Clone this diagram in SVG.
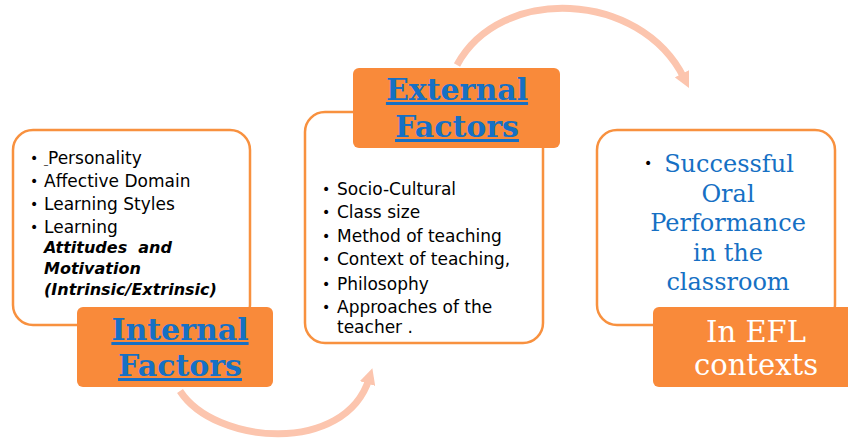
<svg xmlns="http://www.w3.org/2000/svg" width="848" height="438" viewBox="0 0 848 438">
<defs>
<marker id="ah" viewBox="0 0 10 10" markerWidth="16" markerHeight="16" markerUnits="userSpaceOnUse" refX="3" refY="5" orient="auto">
<path d="M0,0 L10,5 L0,10 z" fill="#fcc5ae"/>
</marker>
<style>
.panel{fill:#fff;stroke:#f8913f;stroke-width:2.5}
.tag{fill:#f98a3a}
.li{font-family:"DejaVu Sans",sans-serif;font-size:17px;fill:#000}
.bi{font-family:"DejaVu Sans",sans-serif;font-size:16px;font-weight:bold;font-style:italic;fill:#000}
.bul{font-family:"DejaVu Sans",sans-serif;font-size:14px;fill:#000}
.ttl{font-family:"DejaVu Serif",serif;font-size:30px;font-weight:bold;fill:#1670c4;text-anchor:middle;text-decoration:underline}
.res{font-family:"DejaVu Serif",serif;font-size:24px;fill:#1670c4;text-anchor:middle}
.efl{font-family:"DejaVu Serif",serif;font-size:29px;fill:#fff;text-anchor:middle}
.arc{fill:none;stroke:#fcc5ae;stroke-width:7}
</style>
</defs>
<rect width="848" height="438" fill="#fff"/>
<g id="connectors">
<path class="arc" d="M180,391 C215,445 345,455 369,379" marker-end="url(#ah)"/>
<path class="arc" d="M457,65 C500,-15 640,-10 684,78" marker-end="url(#ah)"/>
</g>
<g id="internal">
<rect class="panel" x="13" y="130" width="237" height="195" rx="20"/>
<text class="bul" x="30" y="163">•</text>
<text class="li" x="44" y="164"><tspan font-size="8">_</tspan>Personality</text>
<text class="bul" x="30" y="186">•</text>
<text class="li" x="44" y="187">Affective Domain</text>
<text class="bul" x="30" y="209">•</text>
<text class="li" x="44" y="210">Learning Styles</text>
<text class="bul" x="30" y="232">•</text>
<text class="li" x="44" y="233">Learning</text>
<text class="bi" x="44" y="253" xml:space="preserve">Attitudes  and</text>
<text class="bi" x="44" y="274">Motivation</text>
<text class="bi" x="44" y="295">(Intrinsic/Extrinsic)</text>
<rect class="tag" x="77" y="307" width="196" height="80" rx="6"/>
<text class="ttl" x="180" y="340">Internal</text>
<text class="ttl" x="180" y="376">Factors</text>
</g>
<g id="external">
<rect class="panel" x="305" y="112" width="238" height="231" rx="20"/>
<text class="bul" x="322" y="194">•</text>
<text class="li" x="337" y="195">Socio-Cultural</text>
<text class="bul" x="322" y="217">•</text>
<text class="li" x="337" y="218">Class size</text>
<text class="bul" x="322" y="241">•</text>
<text class="li" x="337" y="242">Method of teaching</text>
<text class="bul" x="322" y="264">•</text>
<text class="li" x="337" y="265">Context of teaching,</text>
<text class="bul" x="322" y="289">•</text>
<text class="li" x="337" y="290">Philosophy</text>
<text class="bul" x="322" y="312">•</text>
<text class="li" x="337" y="313">Approaches of the</text>
<text class="li" x="337" y="333">teacher .</text>
<rect class="tag" x="353" y="68" width="207" height="80" rx="6"/>
<text class="ttl" x="457" y="100">External</text>
<text class="ttl" x="457" y="137">Factors</text>
</g>
<g id="outcome">
<rect class="panel" x="597" y="130" width="238" height="195" rx="20"/>
<text class="bul" x="644" y="168" fill="#1670c4">•</text>
<text class="res" x="729" y="172">Successful</text>
<text class="res" x="728" y="202">Oral</text>
<text class="res" x="728" y="231">Performance</text>
<text class="res" x="728" y="261">in the</text>
<text class="res" x="728" y="290">classroom</text>
<rect class="tag" x="653" y="307" width="200" height="80" rx="6"/>
<text class="efl" x="756" y="342">In EFL</text>
<text class="efl" x="756" y="375">contexts</text>
</g>
</svg>
